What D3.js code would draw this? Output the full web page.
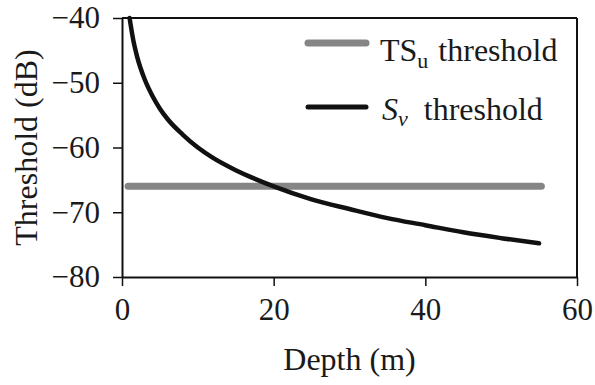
<!DOCTYPE html>
<html>
<head>
<meta charset="utf-8">
<script src="https://cdn.jsdelivr.net/npm/d3@7"></script>
<style>
  body { margin: 0; background: #fff; }
</style>
</head>
<body>
<svg id="chart" width="595" height="385"></svg>
<script>
// ---- data ----
var depth = [1, 1.5, 2, 3, 4, 5, 6, 8, 10, 12, 15, 20, 25, 30, 35, 40, 45, 50, 55];
var svThreshold = [-40, -43.5, -46, -49.5, -52, -54, -55.6, -58, -60, -61.6, -63.5, -66, -68, -69.5, -70.9, -72, -73.1, -74, -74.8];
var tsDepth = [0.8, 55.3];
var tsThreshold = [-66, -66];
var xTicks = [0, 20, 40, 60];
var yTicks = [-40, -50, -60, -70, -80];

var serif = "'Liberation Serif', 'DejaVu Serif', 'Noto Serif', serif";

// ---- layout ----
var svg = d3.select("#chart").style("font-family", serif);
var mLeft = 122, mRight = 577, mTop = 18, mBottom = 277;

var x = d3.scaleLinear().domain([0, 60]).range([mLeft, mRight]);
var y = d3.scaleLinear().domain([-80, -40]).range([mBottom, mTop]);

// axes
var gx = svg.append("g")
  .attr("transform", "translate(0," + mBottom + ")")
  .call(d3.axisBottom(x).tickValues(xTicks).tickSize(9).tickSizeOuter(0).tickPadding(8));
var gy = svg.append("g")
  .attr("transform", "translate(" + mLeft + ",0)")
  .call(d3.axisLeft(y).tickValues(yTicks).tickSize(9).tickSizeOuter(0).tickPadding(13));

[gx, gy].forEach(function (g) {
  g.attr("font-family", null).attr("font-size", 31);
  g.select(".domain").attr("stroke", "#111").attr("stroke-width", 2);
  g.selectAll(".tick line").attr("stroke", "#111").attr("stroke-width", 1.5);
  g.selectAll(".tick text").attr("fill", "#1a1a1a").style("font-family", serif);
});
gx.selectAll(".tick text").attr("dy", "0.85em");

// top and right frame
svg.append("line").attr("x1", mLeft).attr("x2", mRight).attr("y1", mTop).attr("y2", mTop)
  .attr("stroke", "#111").attr("stroke-width", 2);
svg.append("line").attr("x1", mRight).attr("x2", mRight).attr("y1", mTop).attr("y2", mBottom)
  .attr("stroke", "#111").attr("stroke-width", 2);

// axis titles
svg.append("text")
  .attr("x", (mLeft + mRight) / 2).attr("y", 370)
  .attr("text-anchor", "middle").attr("font-size", 32).attr("fill", "#1a1a1a")
  .style("font-family", serif)
  .text("Depth (m)");
svg.append("text")
  .attr("transform", "translate(37," + (mTop + mBottom) / 2 + ") rotate(-90)")
  .attr("text-anchor", "middle").attr("font-size", 32).attr("fill", "#1a1a1a")
  .style("font-family", serif)
  .text("Threshold (dB)");

// series
var tsLine = d3.line()
  .x(function (d, i) { return x(tsDepth[i]); })
  .y(function (d, i) { return y(tsThreshold[i]); });
svg.append("path")
  .attr("d", tsLine(tsDepth))
  .attr("fill", "none").attr("stroke", "#858585")
  .attr("stroke-width", 7).attr("stroke-linecap", "round");

var svLine = d3.line()
  .curve(d3.curveMonotoneX)
  .x(function (d, i) { return x(depth[i]); })
  .y(function (d, i) { return y(svThreshold[i]); });
svg.append("path")
  .attr("d", svLine(depth))
  .attr("fill", "none").attr("stroke", "#111")
  .attr("stroke-width", 4.5).attr("stroke-linecap", "round");

// legend
var lg = svg.append("g").style("font-family", serif);
lg.append("line").attr("x1", 308).attr("x2", 366).attr("y1", 43).attr("y2", 43)
  .attr("stroke", "#858585").attr("stroke-width", 7).attr("stroke-linecap", "round");
lg.append("line").attr("x1", 308).attr("x2", 366).attr("y1", 107).attr("y2", 107)
  .attr("stroke", "#111").attr("stroke-width", 5).attr("stroke-linecap", "round");

var t1 = lg.append("text").attr("x", 380).attr("y", 61).attr("font-size", 32).attr("fill", "#1a1a1a");
t1.append("tspan").text("TS");
t1.append("tspan").attr("font-size", 22).attr("dy", 7).text("u");
t1.append("tspan").attr("dy", -7).attr("dx", 10).text("threshold");

var t2 = lg.append("text").attr("x", 382).attr("y", 120).attr("font-size", 32).attr("fill", "#1a1a1a");
t2.append("tspan").attr("font-style", "italic").text("S");
t2.append("tspan").attr("font-style", "italic").attr("font-size", 22).attr("dy", 6).text("v");
t2.append("tspan").attr("dy", -6).attr("dx", 16).text("threshold");
</script>
</body>
</html>
